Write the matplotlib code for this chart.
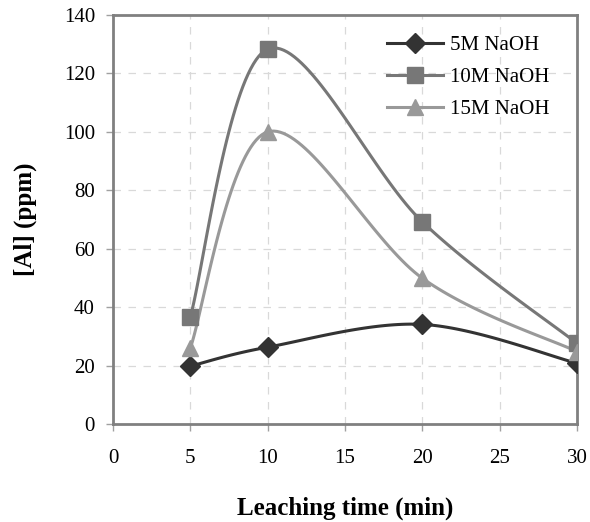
import numpy as np
import matplotlib.pyplot as plt

plt.rcParams['font.family'] = ['Liberation Serif', 'DejaVu Serif']

time_min = [5, 10, 20, 30]
al_5m = [19.8, 26.3, 34.1, 20.8]
al_10m = [36.7, 128.3, 69.2, 27.6]
al_15m = [26.0, 100.0, 49.9, 24.8]

series = [
    ('5M NaOH', al_5m, '#333333', 'D', 10),
    ('10M NaOH', al_10m, '#777777', 's', 11),
    ('15M NaOH', al_15m, '#999999', '^', 11),
]


def smooth(x, y, n=40):
    # Catmull-Rom style curve, similar to Excel "smoothed line"
    p = np.column_stack([x, y]).astype(float)
    p = np.vstack([p[0], p, p[-1]])
    out = []
    t = np.linspace(0, 1, n)[:, None]
    for i in range(1, len(p) - 2):
        p0, p1, p2, p3 = p[i - 1], p[i], p[i + 1], p[i + 2]
        c1 = p1 + (p2 - p0) / 6
        c2 = p2 - (p3 - p1) / 6
        seg = ((1 - t) ** 3) * p1 + 3 * ((1 - t) ** 2) * t * c1 \
            + 3 * (1 - t) * t ** 2 * c2 + t ** 3 * p2
        out.append(seg)
    out = np.vstack(out)
    return out[:, 0], out[:, 1]


fig = plt.figure(figsize=(5.9, 5.22), dpi=100)
ax = fig.add_axes([0.1915, 0.1877, 0.7865, 0.7836])

for name, vals, col, mk, ms in series:
    sx, sy = smooth(time_min, vals)
    ax.plot(sx, sy, color=col, lw=2.2, zorder=3)
    ax.plot(time_min, vals, linestyle='none', marker=mk, ms=ms, color=col, zorder=4)
    ax.plot([], [], color=col, lw=2.2, marker=mk, ms=ms, label=name)

ax.set_xlim(0, 30)
ax.set_ylim(0, 140)
ax.set_xticks(np.arange(0, 31, 5))
ax.set_yticks(np.arange(0, 141, 20))
ax.grid(True, color='#d9d9d9', linestyle=(0, (6, 6)), lw=0.9)
ax.set_axisbelow(True)
for s in ax.spines.values():
    s.set_color('#808080')
    s.set_linewidth(2)
ax.tick_params(direction='out', length=5, width=1, color='#a0a0a0', labelsize=15)
ax.tick_params(axis='x', pad=13)
ax.tick_params(axis='y', pad=8)

ax.set_xlabel('Leaching time (min)', fontsize=18, fontweight='bold', va='center')
ax.set_ylabel('[Al] (ppm)', fontsize=18, fontweight='bold', va='center')
ax.xaxis.set_label_coords(0.5, -0.205)
ax.yaxis.set_label_coords(-0.188, 0.5)

ax.legend(loc='upper right', bbox_to_anchor=(1.0, 1.016), frameon=False,
          fontsize=15, handlelength=2.7, labelspacing=0.6, borderaxespad=0.9,
          handletextpad=0.35)

fig.savefig('out.png', dpi=100, facecolor='white')
